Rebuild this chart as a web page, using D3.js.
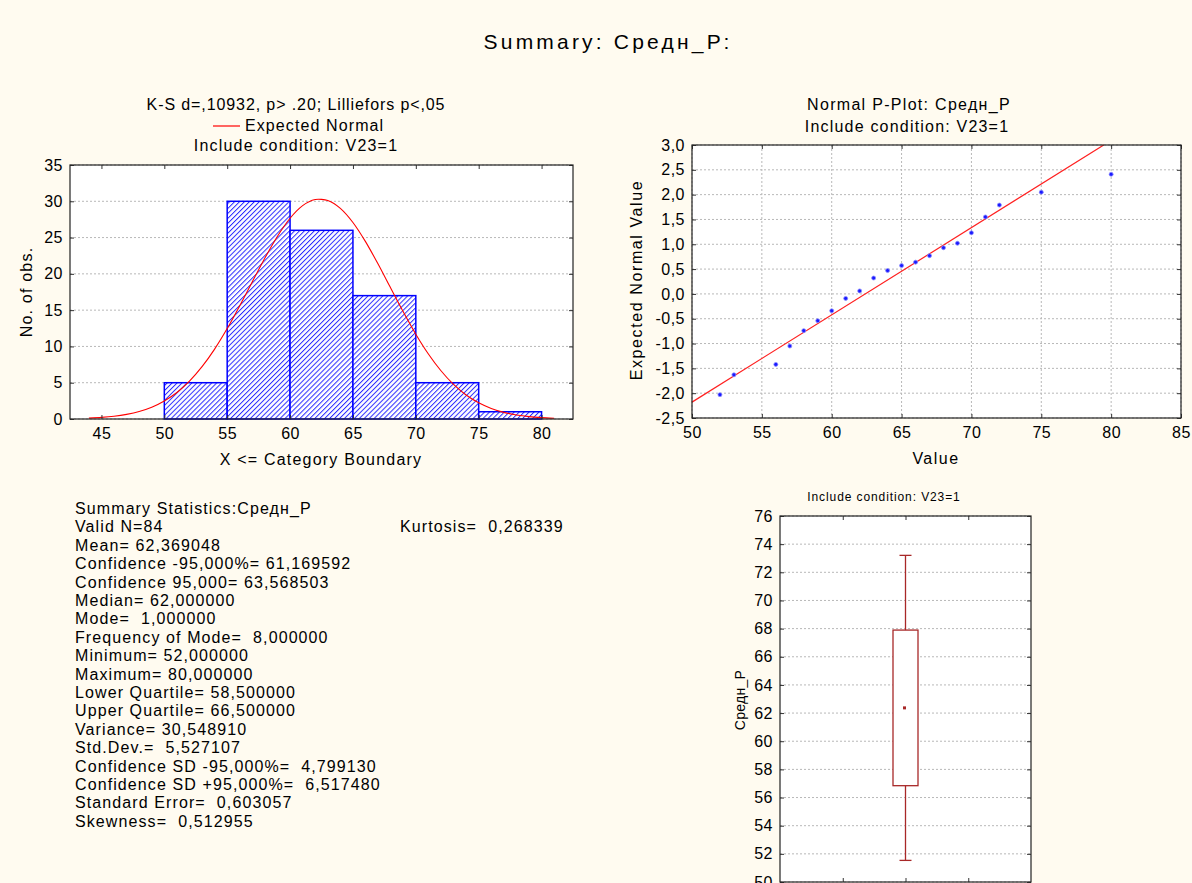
<!DOCTYPE html>
<html>
<head>
<meta charset="utf-8">
<script src="https://cdn.jsdelivr.net/npm/d3@7"></script>
<style>
body { margin: 0; background: #fffbf0; }
svg { display: block; }
text { font-family: Arial, "Liberation Sans", sans-serif; fill: #000; }
</style>
</head>
<body>
<svg width="1192" height="883"></svg>
<script>
// ---- data ----
var binEdges = [50, 55, 60, 65, 70, 75, 80]
var binCounts = [5, 30, 26, 17, 5, 1]
var normX = [44, 45, 46, 47, 48, 49, 50, 51, 52, 53, 54, 55, 56, 57, 58, 59, 60, 61, 62,
             63, 64, 65, 66, 67, 68, 69, 70, 71, 72, 73, 74, 75, 76, 77, 78, 79, 80, 81]
var normY = [0.12, 0.22, 0.38, 0.64, 1.03, 1.62, 2.48, 3.65, 5.22, 7.21, 9.63, 12.46, 15.61,
             18.91, 22.18, 25.18, 27.66, 29.40, 30.25, 30.12, 29.03, 27.08, 24.44, 21.35,
             18.05, 14.77, 11.69, 8.96, 6.65, 4.77, 3.31, 2.23, 1.45, 0.91, 0.56, 0.33, 0.19, 0.10]
var histTicksX = [45, 50, 55, 60, 65, 70, 75, 80]
var histTicksY = [0, 5, 10, 15, 20, 25, 30, 35]

var ppValues = [52, 53, 56, 57, 58, 59, 60, 61, 62, 63, 64, 65, 66, 67, 68, 69, 70, 71, 72, 75, 80]
var ppExpected = [-2.03, -1.63, -1.42, -1.05, -0.74, -0.54, -0.34, -0.09, 0.06, 0.32, 0.47,
                  0.57, 0.64, 0.77, 0.93, 1.02, 1.23, 1.55, 1.79, 2.05, 2.41]
var ppLineX = [50, 79.47]
var ppLineY = [-2.18, 3.0]
var ppTicksX = [50, 55, 60, 65, 70, 75, 80, 85]
var ppTicksY = [-2.5, -2, -1.5, -1, -0.5, 0, 0.5, 1, 1.5, 2, 2.5, 3]

var boxParts = ["whiskerLow", "boxLow", "mean", "boxHigh", "whiskerHigh"]
var boxValues = [51.535, 56.842, 62.369, 67.896, 73.203]
var boxTicksY = [50, 52, 54, 56, 58, 60, 62, 64, 66, 68, 70, 72, 74, 76]

var statLines = [
  "Summary Statistics:Средн_Р",
  "Valid N=84",
  "Mean= 62,369048",
  "Confidence -95,000%= 61,169592",
  "Confidence 95,000= 63,568503",
  "Median= 62,000000",
  "Mode=  1,000000",
  "Frequency of Mode=  8,000000",
  "Minimum= 52,000000",
  "Maximum= 80,000000",
  "Lower Quartile= 58,500000",
  "Upper Quartile= 66,500000",
  "Variance= 30,548910",
  "Std.Dev.=  5,527107",
  "Confidence SD -95,000%=  4,799130",
  "Confidence SD +95,000%=  6,517480",
  "Standard Error=  0,603057",
  "Skewness=  0,512955"
]
var kurtosisText = "Kurtosis=  0,268339"

// ---- helpers ----
var svg = d3.select("svg")
var comma = function (f) { return function (d) { return d3.format(f)(d).replace(".", ",").replace("−", "-") } }

var label = function (g, x, y, size, spacing, txt, anchor)
{
  return g.append("text").attr("x", x).attr("y", y).attr("font-size", size)
    .attr("letter-spacing", spacing).attr("text-anchor", anchor || "middle")
    .style("white-space", "pre").text(txt)
}

var frame = function (g, xs, ys, ticksX, ticksY, gridX, gridY)
{
  var x0 = xs.range()[0], x1 = xs.range()[1]
  var y0 = ys.range()[1], y1 = ys.range()[0]
  g.append("rect").attr("x", x0).attr("y", y0).attr("width", x1 - x0).attr("height", y1 - y0)
    .attr("fill", "#fff")

  if (gridY) {
    g.append("g").selectAll("line").data(ticksY).enter().append("line")
      .attr("x1", x0).attr("x2", x1)
      .attr("y1", function (d) { return ys(d) }).attr("y2", function (d) { return ys(d) })
      .attr("stroke", "#b8b8b8").attr("stroke-dasharray", "2,2")
  }
  if (gridX) {
    g.append("g").selectAll("line").data(ticksX).enter().append("line")
      .attr("y1", y0).attr("y2", y1)
      .attr("x1", function (d) { return xs(d) }).attr("x2", function (d) { return xs(d) })
      .attr("stroke", "#b8b8b8").attr("stroke-dasharray", "2,2")
  }
}

var axes = function (g, xs, ys, ticksX, ticksY, fmtX, fmtY, showX)
{
  var x0 = xs.range()[0], x1 = xs.range()[1]
  var y0 = ys.range()[1], y1 = ys.range()[0]
  var parts = [
    g.append("g").attr("transform", "translate(" + x0 + ",0)")
      .call(d3.axisLeft(ys).tickValues(ticksY).tickSize(-4).tickPadding(7).tickFormat(fmtY)),
    g.append("g").attr("transform", "translate(" + x1 + ",0)")
      .call(d3.axisRight(ys).tickValues(ticksY).tickSize(-4).tickFormat("")),
    g.append("g").attr("transform", "translate(0," + y1 + ")")
      .call(d3.axisBottom(xs).tickValues(ticksX).tickSize(-4).tickPadding(9).tickFormat(showX ? fmtX : "")),
    g.append("g").attr("transform", "translate(0," + y0 + ")")
      .call(d3.axisTop(xs).tickValues(ticksX).tickSize(-4).tickFormat(""))
  ]
  parts.forEach(function (p) {
    p.select(".domain").remove()
    p.selectAll("line").attr("stroke", "#333")
    p.selectAll("text").attr("font-size", 16).attr("letter-spacing", 0.5)
      .attr("font-family", "Arial, 'Liberation Sans', sans-serif")
  })
  g.append("rect").attr("x", x0).attr("y", y0).attr("width", x1 - x0).attr("height", y1 - y0)
    .attr("fill", "none").attr("stroke", "#222").attr("stroke-width", 1.2)
}

// ---- main title ----
label(svg, 608, 49, 21, 3.2, "Summary: Средн_Р:")

// ---- histogram ----
var defs = svg.append("defs")
var pat = defs.append("pattern").attr("id", "hatch").attr("patternUnits", "userSpaceOnUse")
  .attr("width", 3.5).attr("height", 3.5).attr("patternTransform", "rotate(45)")
pat.append("rect").attr("width", 3.5).attr("height", 3.5).attr("fill", "#ffffff")
pat.append("rect").attr("width", 1).attr("height", 3.5).attr("fill", "#2a2aff")

var hx = d3.scaleLinear().domain([42.5, 82.5]).range([70, 573])
var hy = d3.scaleLinear().domain([0, 35]).range([419, 165])
var hist = svg.append("g")
frame(hist, hx, hy, histTicksX, histTicksY, false, true)

hist.append("g").selectAll("rect").data(binCounts).enter().append("rect")
  .attr("x", function (d, i) { return hx(binEdges[i]) })
  .attr("width", function (d, i) { return hx(binEdges[i + 1]) - hx(binEdges[i]) })
  .attr("y", function (d) { return hy(d) })
  .attr("height", function (d) { return hy(0) - hy(d) })
  .attr("fill", "url(#hatch)").attr("stroke", "#0000ff").attr("stroke-width", 1.5)

var normLine = d3.line()
  .x(function (d, i) { return hx(normX[i]) })
  .y(function (d) { return hy(d) })
  .curve(d3.curveCardinal.tension(0.3))
hist.append("path").datum(normY).attr("d", normLine)
  .attr("fill", "none").attr("stroke", "#ff0000").attr("stroke-width", 1.1)

axes(hist, hx, hy, histTicksX, histTicksY, d3.format("d"), d3.format("d"), true)

label(hist, 296, 110, 16, 0.9, "K-S d=,10932, p> .20; Lilliefors p<,05")
hist.append("line").attr("x1", 213).attr("x2", 240).attr("y1", 126).attr("y2", 126)
  .attr("stroke", "#ff0000").attr("stroke-width", 1.2)
label(hist, 245, 131, 16, 1.1, "Expected Normal", "start")
label(hist, 296, 151, 16, 1.2, "Include condition: V23=1")
label(hist, 321, 465, 16, 1.2, "X <= Category Boundary")
label(hist, 0, 0, 16, 1.2, "No. of obs.").attr("transform", "translate(32,292) rotate(-90)")

// ---- normal probability plot ----
var px = d3.scaleLinear().domain([50, 85]).range([692, 1181])
var py = d3.scaleLinear().domain([-2.5, 3]).range([418, 145])
var pp = svg.append("g")
frame(pp, px, py, ppTicksX, ppTicksY, true, true)

pp.append("line")
  .attr("x1", px(ppLineX[0])).attr("y1", py(ppLineY[0]))
  .attr("x2", px(ppLineX[1])).attr("y2", py(ppLineY[1]))
  .attr("stroke", "#ff2020").attr("stroke-width", 1.2)

pp.append("g").selectAll("circle").data(ppValues).enter().append("circle")
  .attr("cx", function (d) { return px(d) })
  .attr("cy", function (d, i) { return py(ppExpected[i]) })
  .attr("r", 2).attr("fill", "#1a1aff").attr("stroke", "#8c8cff").attr("stroke-width", 0.8)

axes(pp, px, py, ppTicksX, ppTicksY, d3.format("d"), comma(".1f"), true)

label(pp, 909, 110, 16, 1.3, "Normal P-Plot: Средн_Р")
label(pp, 907, 132, 16, 1.2, "Include condition: V23=1")
label(pp, 936, 464, 16, 1.5, "Value")
label(pp, 0, 0, 16, 1.6, "Expected Normal Value").attr("transform", "translate(642,280) rotate(-90)")

// ---- box plot ----
var bx = d3.scaleLinear().domain([0, 4]).range([780, 1031])
var by = d3.scaleLinear().domain([50, 76]).range([882, 516])
var box = svg.append("g")
frame(box, bx, by, [1, 2, 3], boxTicksY, false, true)

var bv = {}
boxParts.forEach(function (k, i) { bv[k] = boxValues[i] })
var bc = bx(2), boxColor = "#a82828"
box.append("line").attr("x1", bc).attr("x2", bc)
  .attr("y1", by(bv.whiskerLow)).attr("y2", by(bv.whiskerHigh))
  .attr("stroke", boxColor).attr("stroke-width", 1.3)
box.append("g").selectAll("line").data([bv.whiskerLow, bv.whiskerHigh]).enter().append("line")
  .attr("x1", bc - 6).attr("x2", bc + 6)
  .attr("y1", function (d) { return by(d) }).attr("y2", function (d) { return by(d) })
  .attr("stroke", boxColor).attr("stroke-width", 1.3)
box.append("rect").attr("x", bc - 12.5).attr("width", 25)
  .attr("y", by(bv.boxHigh)).attr("height", by(bv.boxLow) - by(bv.boxHigh))
  .attr("fill", "#fff").attr("stroke", boxColor).attr("stroke-width", 1.3)
box.append("rect").attr("x", bc - 2.5).attr("y", by(bv.mean) - 1.5).attr("width", 3).attr("height", 3)
  .attr("fill", boxColor)

axes(box, bx, by, [1, 2, 3], boxTicksY, d3.format("d"), d3.format("d"), false)

label(box, 884, 501, 12, 0.9, "Include condition: V23=1")
label(box, 0, 0, 14, 0.3, "Средн_Р").attr("transform", "translate(745,700) rotate(-90)")

// ---- summary statistics text ----
var stats = svg.append("g")
stats.selectAll("text").data(statLines).enter().append("text")
  .attr("x", 75).attr("y", function (d, i) { return 514 + i * 18.4 })
  .attr("font-size", 16).attr("letter-spacing", 1.1).style("white-space", "pre")
  .text(function (d) { return d })
label(stats, 400, 532.4, 16, 1.1, kurtosisText, "start")
</script>
</body>
</html>
